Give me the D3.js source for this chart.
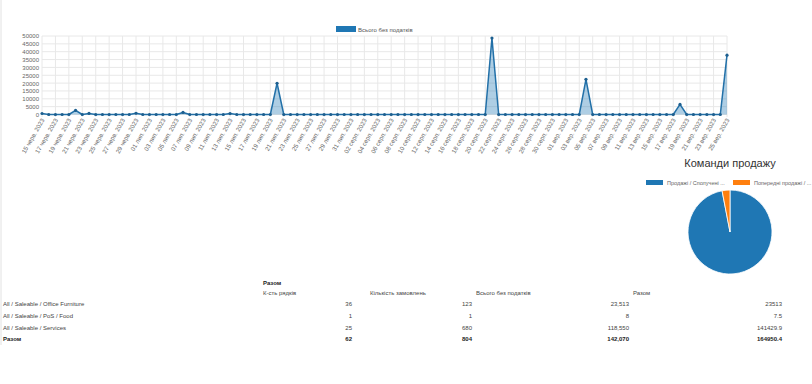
<!DOCTYPE html>
<html>
<head>
<meta charset="utf-8">
<script src="https://cdn.jsdelivr.net/npm/d3@7"></script>
<style>
  html, body { margin: 0; padding: 0; background: #fff; }
  svg { display: block; font-family: "Liberation Sans", Arial, sans-serif; }
  .grid line { stroke: #e8e8e8; stroke-width: 1; }
  .axis text { fill: #666; font-size: 6px; }
  .tbl { fill: #444; font-size: 6px; }
  .tbl.bold { font-weight: bold; fill: #222; }
</style>
</head>
<body>
<svg id="chart" width="812" height="384"></svg>
<script>
// ---------------------------------------------------------------------------
// Data
// ---------------------------------------------------------------------------

const seriesName = "Всього без податків";
const firstDay = "2023-06-15";
const lastDay = "2023-09-25";
const monthAbbr = { 5: "черв.", 6: "лип.", 7: "серп.", 8: "вер." };

// daily totals, 15 June .. 25 Sept (103 days)
const dailyTotals = [
  650, 0, 0, 0, 0, 2600, 0, 700, 0, 0,
  0, 0, 0, 0, 800, 0, 0, 0, 0, 0,
  0, 1300, 0, 0, 0, 0, 0, 0, 600, 0,
  0, 0, 0, 0, 0, 19900, 0, 0, 0, 0,
  0, 0, 0, 0, 0, 0, 0, 0, 0, 0,
  0, 0, 0, 0, 0, 0, 0, 0, 0, 0,
  0, 0, 0, 0, 0, 0, 0, 48700, 0, 0,
  0, 0, 0, 0, 0, 0, 0, 0, 0, 0,
  0, 22400, 0, 0, 0, 0, 0, 0, 0, 0,
  0, 0, 0, 0, 0, 6400, 0, 0, 0, 0,
  0, 0, 37800
];
const yTicks = [0, 5000, 10000, 15000, 20000, 25000, 30000, 35000, 40000, 45000, 50000];

const teamNames = ["Продажі / Сполучені ...", "Попередні продажі / ..."];
const teamValues = [138000, 4300];

const tableTitle = "Разом";
const tableHeaders = ["К-сть рядків", "Кількість замовлень", "Всього без податків", "Разом"];
const rowLabels = ["All / Saleable / Office Furniture", "All / Saleable / PoS / Food", "All / Saleable / Services", "Разом"];
const lineCounts = ["36", "1", "25", "62"];
const orderCounts = ["123", "1", "680", "804"];
const untaxedTotals = ["23,513", "8", "118,550", "142,070"];
const grandTotals = ["23513", "7.5", "141429.9", "164950.4"];

// ---------------------------------------------------------------------------
// Line chart
// ---------------------------------------------------------------------------

const svg = d3.select("#chart");
const LINE_COLOR = "#1f77b4";

// faint left border of the page
svg.append("line").attr("x1", 1).attr("x2", 1).attr("y1", 0).attr("y2", 345)
  .attr("stroke", "#e2e2e2");

const parse = d3.timeParse("%Y-%m-%d");
const days = d3.timeDay.range(parse(firstDay), d3.timeDay.offset(parse(lastDay), 1));
const fmtDay = (d) => d3.timeFormat("%d")(d) + " " + monthAbbr[d.getMonth()] + " 2023";

const x = d3.scalePoint().domain(d3.range(days.length)).range([42, 727]);
const y = d3.scaleLinear().domain([0, 50000]).range([114.5, 36]);

// grid
const grid = svg.append("g").attr("class", "grid");
grid.selectAll("line.h").data(yTicks).join("line").attr("class", "h")
  .attr("x1", 42).attr("x2", 727).attr("y1", (d) => y(d)).attr("y2", (d) => y(d));
const labelIdx = d3.range(0, days.length, 2);
grid.selectAll("line.v").data(labelIdx).join("line").attr("class", "v")
  .attr("x1", (i) => x(i)).attr("x2", (i) => x(i)).attr("y1", 36).attr("y2", 117);

// y axis
const yAxis = svg.append("g").attr("class", "axis").attr("transform", "translate(40,0)")
  .call(d3.axisLeft(y).tickValues(yTicks).tickSize(0).tickPadding(1).tickFormat((d) => d));
yAxis.select(".domain").remove();

// x axis (rotated date labels, every other day)
const xAxis = svg.append("g").attr("class", "axis").attr("transform", "translate(0,117)")
  .call(d3.axisBottom(x).tickValues(labelIdx).tickSize(0).tickFormat((i) => fmtDay(days[i])));
xAxis.select(".domain").remove();
xAxis.selectAll(".tick").attr("transform", null);
xAxis.selectAll("text")
  .attr("text-anchor", "end")
  .attr("dy", "0.3em")
  .attr("dx", "-0.2em")
  .attr("y", 2)
  .attr("x", (i) => x(i))
  .attr("transform", (i) => `rotate(-60, ${x(i)}, 0)`)
  .style("font-size", "6.2px");

// area + line
const area = d3.area().x((d, i) => x(i)).y0(y(0)).y1((d) => y(d));
const line = d3.line().x((d, i) => x(i)).y((d) => y(d));
svg.append("path").datum(dailyTotals).attr("d", area)
  .attr("fill", "rgba(31,119,180,0.36)");
svg.append("path").datum(dailyTotals).attr("d", line)
  .attr("fill", "none").attr("stroke", "#2270a8").attr("stroke-width", 1.5)
  .attr("stroke-linejoin", "round");
svg.append("g").selectAll("circle").data(dailyTotals).join("circle")
  .attr("cx", (d, i) => x(i)).attr("cy", (d) => y(d)).attr("r", 1.6)
  .attr("fill", "#1d5f8f");

// legend
svg.append("rect").attr("x", 336).attr("y", 26).attr("width", 20).attr("height", 6)
  .attr("fill", LINE_COLOR);
svg.append("text").attr("x", 358).attr("y", 31.5).attr("font-size", "6px").attr("fill", "#555")
  .text(seriesName);

// ---------------------------------------------------------------------------
// Pie chart
// ---------------------------------------------------------------------------

const pieColors = d3.scaleOrdinal().domain(teamNames).range(["#1f77b4", "#ff7f0e"]);
svg.append("text").attr("x", 730).attr("y", 167).attr("text-anchor", "middle")
  .attr("font-size", "11px").attr("fill", "#333").text("Команди продажу");

const legendX = [646, 733];
teamNames.forEach((name, i) => {
  svg.append("rect").attr("x", legendX[i]).attr("y", 180).attr("width", 17).attr("height", 5)
    .attr("fill", pieColors(name));
  svg.append("text").attr("x", legendX[i] + 21).attr("y", 184.8)
    .attr("font-size", "5.5px").attr("fill", "#666").text(name);
});

const pie = d3.pie().sort(null).value((d) => d)(teamValues);
const arc = d3.arc().innerRadius(0).outerRadius(42);
svg.append("g").attr("transform", "translate(730,232)")
  .selectAll("path").data(pie).join("path")
  .attr("d", arc)
  .attr("fill", (d, i) => pieColors(teamNames[i]))
  .attr("stroke", "#fff").attr("stroke-width", 0.8);

// ---------------------------------------------------------------------------
// Pivot table
// ---------------------------------------------------------------------------

svg.append("text").attr("class", "tbl bold").attr("x", 263).attr("y", 285).text(tableTitle);
const headerX = [263, 370, 476, 633];
tableHeaders.forEach((h, i) => {
  svg.append("text").attr("class", "tbl").attr("x", headerX[i]).attr("y", 295).text(h);
});

const rowY = [306, 318, 330, 341];
const colRight = [352, 472, 629, 782];
const columns = [lineCounts, orderCounts, untaxedTotals, grandTotals];
rowLabels.forEach((label, r) => {
  const bold = r === rowLabels.length - 1;
  svg.append("text").attr("class", "tbl" + (bold ? " bold" : ""))
    .attr("x", 3).attr("y", rowY[r]).text(label);
  columns.forEach((col, c) => {
    svg.append("text").attr("class", "tbl" + (bold ? " bold" : ""))
      .attr("x", colRight[c]).attr("y", rowY[r]).attr("text-anchor", "end").text(col[r]);
  });
});
</script>
</body>
</html>
